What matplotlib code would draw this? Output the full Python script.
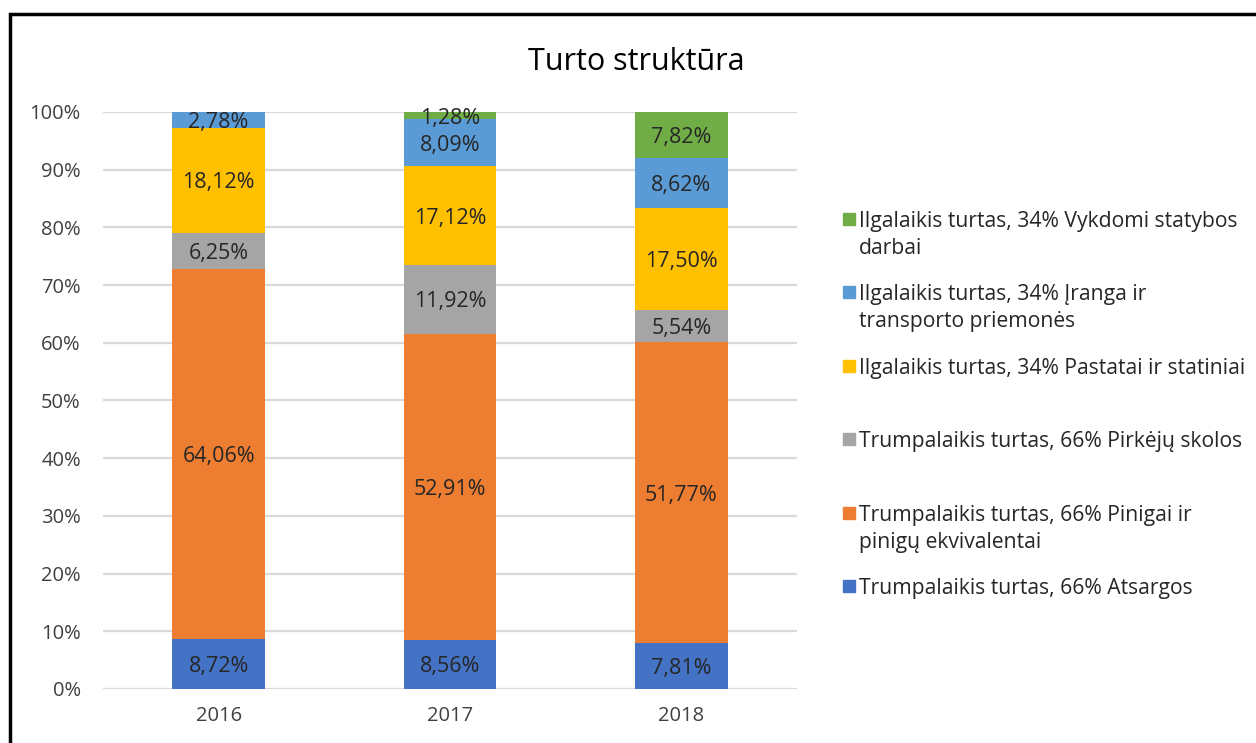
import numpy as np
import matplotlib.pyplot as plt
from matplotlib.patches import Rectangle

plt.rcParams['font.family'] = ['Open Sans', 'DejaVu Sans']

years = ['2016', '2017', '2018']
series_names = [
    'Trumpalaikis turtas, 66% Atsargos',
    'Trumpalaikis turtas, 66% Pinigai ir\npinigų ekvivalentai',
    'Trumpalaikis turtas, 66% Pirkėjų skolos',
    'Ilgalaikis turtas, 34% Pastatai ir statiniai',
    'Ilgalaikis turtas, 34% Įranga ir\ntransporto priemonės',
    'Ilgalaikis turtas, 34% Vykdomi statybos\ndarbai',
]
atsargos = [8.72, 8.56, 7.81]
pinigai = [64.06, 52.91, 51.77]
skolos = [6.25, 11.92, 5.54]
pastatai = [18.12, 17.12, 17.50]
iranga = [2.78, 8.09, 8.62]
statybos = [0.0, 1.28, 7.82]
colors = ['#4472C4', '#ED7D31', '#A5A5A5', '#FFC000', '#5B9BD5', '#70AD47']

data = np.array([atsargos, pinigai, skolos, pastatai, iranga, statybos])
share = data / data.sum(axis=0) * 100

fig = plt.figure(figsize=(12.56, 7.43), dpi=100)
ax = fig.add_axes([0.082, 0.0727, 0.5525, 0.7766])

x = np.arange(len(years))
bottom = np.zeros(len(years))
for i in range(len(data)):
    ax.bar(x, share[i], 0.40, bottom=bottom, color=colors[i], zorder=2)
    for j in range(len(years)):
        if data[i, j] > 0:
            lbl = f'{data[i, j]:.2f}%'.replace('.', ',')
            ax.text(x[j], bottom[j] + share[i, j] / 2, lbl, ha='center', va='center_baseline',
                    fontsize=15.5, color='#262626', zorder=3)
    bottom += share[i]

ax.set_xlim(-0.5, 2.5)
ax.set_ylim(0, 100)
ax.set_yticks(np.arange(0, 101, 10))
ax.set_yticklabels([f'{v}%' for v in range(0, 101, 10)])
ax.set_xticks(x)
ax.set_xticklabels(years)
ax.tick_params(axis='both', length=0, labelsize=14.5, colors='#404040')
ax.tick_params(axis='y', pad=16)
ax.tick_params(axis='x', pad=12)
ax.grid(axis='y', color='#D9D9D9', linewidth=1.6, zorder=0)
for s in ax.spines.values():
    s.set_visible(False)

fig.text(0.507, 0.916, 'Turto struktūra', ha='center', va='center', fontsize=22, color='#000000')

# legend, top entry first
leg_x = 843 / 1256
y0 = 219
step = 73.4
for k, i in enumerate(range(len(series_names) - 1, -1, -1)):
    ypx = y0 + k * step
    yf = 1 - ypx / 743
    fig.add_artist(Rectangle((leg_x, yf - 6 / 743), 12 / 1256, 12 / 743,
                             transform=fig.transFigure, color=colors[i]))
    for n, line in enumerate(series_names[i].split('\n')):
        fig.text(859 / 1256, 1 - (ypx + n * 27) / 743, line, ha='left', va='center_baseline',
                 fontsize=15.2, color='#262626')

fig.add_artist(Rectangle((10 / 1256, -0.5), 2, 0.5 + 1 - 14 / 743, transform=fig.transFigure,
                         fill=False, edgecolor='black', linewidth=2.5))

plt.savefig('out.png', dpi=100)
